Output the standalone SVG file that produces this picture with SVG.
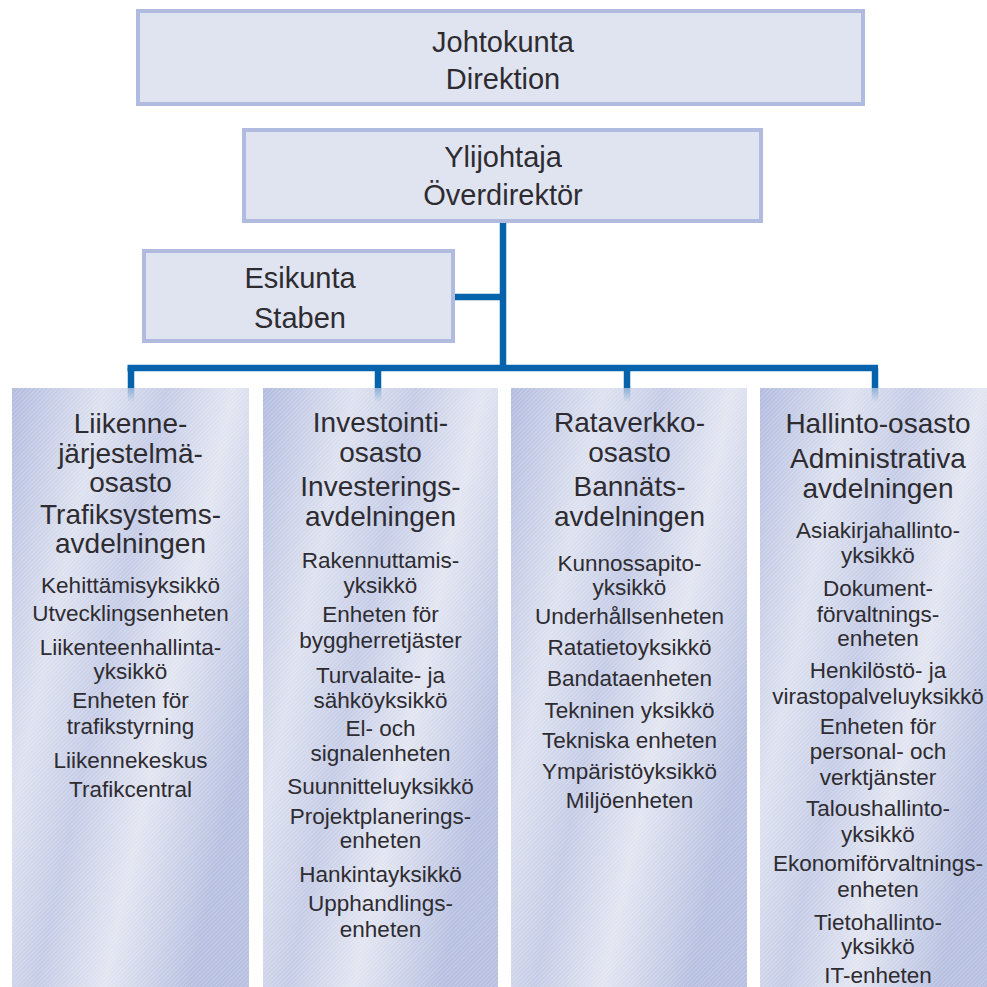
<svg xmlns="http://www.w3.org/2000/svg" width="987" height="987" viewBox="0 0 987 987">
<style>
.box{fill:#dfe4f0;stroke:#b0bbdf;stroke-width:4}
.col{stroke:none}
.t{font-family:"Liberation Sans",Arial,Helvetica,sans-serif;fill:#2e2c31;text-anchor:middle}
.h{font-size:28px}
.h1{font-size:29px}
.s{font-size:22.5px}
.ln{stroke:#0563ac;stroke-width:6.5;fill:none;stroke-linecap:butt}
</style>
<defs>
<linearGradient id="g" x1="0" y1="0" x2="1" y2="0.55">
<stop offset="0" stop-color="#b2bbdf"/>
<stop offset="0.3" stop-color="#dde1ef"/>
<stop offset="0.5" stop-color="#c4cbe6"/>
<stop offset="0.72" stop-color="#e2e5f1"/>
<stop offset="1" stop-color="#b6bfe0"/>
</linearGradient>
<pattern id="hatch" width="3" height="3" patternUnits="userSpaceOnUse" patternTransform="rotate(45)">
<rect x="0" y="0" width="1" height="3" fill="#ffffff" fill-opacity="0.22"/>
</pattern>
<linearGradient id="fade" x1="0" y1="0" x2="0" y2="1">
<stop offset="0" stop-color="#0563ac" stop-opacity="0.35"/>
<stop offset="1" stop-color="#0563ac" stop-opacity="0"/>
</linearGradient>
</defs>
<rect width="987" height="987" fill="#ffffff"/>

<g id="johtokunta">
<rect class="box" x="138" y="11" width="725" height="93"/>
<text class="t h1" x="503" y="52">Johtokunta</text>
<text class="t h1" x="503" y="89">Direktion</text>
</g>

<g id="ylijohtaja">
<rect class="box" x="244" y="130" width="517" height="91"/>
<text class="t h1" x="503" y="167">Ylijohtaja</text>
<text class="t h1" x="503" y="205">Överdirektör</text>
</g>

<g id="esikunta">
<rect class="box" x="144" y="251" width="309" height="90"/>
<text class="t h1" x="300" y="288">Esikunta</text>
<text class="t h1" x="300" y="328">Staben</text>
</g>

<g id="connectors">
<path class="ln" d="M503 223 V368"/>
<path class="ln" d="M455 297 H503"/>
<path class="ln" d="M127.5 368 H878"/>
<path class="ln" d="M131 368 V388"/>
<path class="ln" d="M378 368 V388"/>
<path class="ln" d="M627 368 V388"/>
<path class="ln" d="M875 368 V388"/>
</g>

<g id="liikennejarjestelmaosasto">
<rect class="col" x="12" y="388" width="237" height="599" fill="url(#g)"/>
<rect class="col" x="12" y="388" width="237" height="599" fill="url(#hatch)"/>
<rect x="127.75" y="388" width="6.5" height="14" fill="url(#fade)"/>
<text class="t h" x="130.5" y="433">Liikenne-</text>
<text class="t h" x="130.5" y="463">järjestelmä-</text>
<text class="t h" x="130.5" y="492">osasto</text>
<text class="t h" x="130.5" y="524">Trafiksystems-</text>
<text class="t h" x="130.5" y="553">avdelningen</text>
<text class="t s" x="130.5" y="593">Kehittämisyksikkö</text>
<text class="t s" x="130.5" y="621">Utvecklingsenheten</text>
<text class="t s" x="130.5" y="655">Liikenteenhallinta-</text>
<text class="t s" x="130.5" y="679">yksikkö</text>
<text class="t s" x="130.5" y="708">Enheten för</text>
<text class="t s" x="130.5" y="734">trafikstyrning</text>
<text class="t s" x="130.5" y="768">Liikennekeskus</text>
<text class="t s" x="130.5" y="797">Trafikcentral</text>
</g>

<g id="investointiosasto">
<rect class="col" x="263" y="388" width="235" height="599" fill="url(#g)"/>
<rect class="col" x="263" y="388" width="235" height="599" fill="url(#hatch)"/>
<rect x="374.75" y="388" width="6.5" height="14" fill="url(#fade)"/>
<text class="t h" x="380.5" y="432">Investointi-</text>
<text class="t h" x="380.5" y="462">osasto</text>
<text class="t h" x="380.5" y="496">Investerings-</text>
<text class="t h" x="380.5" y="526">avdelningen</text>
<text class="t s" x="380.5" y="568">Rakennuttamis-</text>
<text class="t s" x="380.5" y="593">yksikkö</text>
<text class="t s" x="380.5" y="622">Enheten för</text>
<text class="t s" x="380.5" y="648">byggherretjäster</text>
<text class="t s" x="380.5" y="683">Turvalaite- ja</text>
<text class="t s" x="380.5" y="708">sähköyksikkö</text>
<text class="t s" x="380.5" y="736">El- och</text>
<text class="t s" x="380.5" y="761">signalenheten</text>
<text class="t s" x="380.5" y="794">Suunnitteluyksikkö</text>
<text class="t s" x="380.5" y="824">Projektplanerings-</text>
<text class="t s" x="380.5" y="848">enheten</text>
<text class="t s" x="380.5" y="882">Hankintayksikkö</text>
<text class="t s" x="380.5" y="911">Upphandlings-</text>
<text class="t s" x="380.5" y="937">enheten</text>
</g>

<g id="rataverkkoosasto">
<rect class="col" x="511" y="388" width="236" height="599" fill="url(#g)"/>
<rect class="col" x="511" y="388" width="236" height="599" fill="url(#hatch)"/>
<rect x="623.75" y="388" width="6.5" height="14" fill="url(#fade)"/>
<text class="t h" x="629.5" y="432">Rataverkko-</text>
<text class="t h" x="629.5" y="462">osasto</text>
<text class="t h" x="629.5" y="496">Bannäts-</text>
<text class="t h" x="629.5" y="526">avdelningen</text>
<text class="t s" x="629.5" y="571">Kunnossapito-</text>
<text class="t s" x="629.5" y="595">yksikkö</text>
<text class="t s" x="629.5" y="624">Underhållsenheten</text>
<text class="t s" x="629.5" y="655">Ratatietoyksikkö</text>
<text class="t s" x="629.5" y="686">Bandataenheten</text>
<text class="t s" x="629.5" y="718">Tekninen yksikkö</text>
<text class="t s" x="629.5" y="748">Tekniska enheten</text>
<text class="t s" x="629.5" y="779">Ympäristöyksikkö</text>
<text class="t s" x="629.5" y="808">Miljöenheten</text>
</g>

<g id="hallintoosasto">
<rect class="col" x="760" y="388" width="237" height="599" fill="url(#g)"/>
<rect class="col" x="760" y="388" width="237" height="599" fill="url(#hatch)"/>
<rect x="871.75" y="388" width="6.5" height="14" fill="url(#fade)"/>
<text class="t h" x="878" y="433">Hallinto-osasto</text>
<text class="t h" x="878" y="468">Administrativa</text>
<text class="t h" x="878" y="498">avdelningen</text>
<text class="t s" x="878" y="538">Asiakirjahallinto-</text>
<text class="t s" x="878" y="563">yksikkö</text>
<text class="t s" x="878" y="596">Dokument-</text>
<text class="t s" x="878" y="622">förvaltnings-</text>
<text class="t s" x="878" y="646">enheten</text>
<text class="t s" x="878" y="678">Henkilöstö- ja</text>
<text class="t s" x="878" y="704">virastopalveluyksikkö</text>
<text class="t s" x="878" y="734">Enheten för</text>
<text class="t s" x="878" y="759">personal- och</text>
<text class="t s" x="878" y="785">verktjänster</text>
<text class="t s" x="878" y="816">Taloushallinto-</text>
<text class="t s" x="878" y="842">yksikkö</text>
<text class="t s" x="878" y="871">Ekonomiförvaltnings-</text>
<text class="t s" x="878" y="897">enheten</text>
<text class="t s" x="878" y="930">Tietohallinto-</text>
<text class="t s" x="878" y="954">yksikkö</text>
<text class="t s" x="878" y="983">IT-enheten</text>
</g>
</svg>
